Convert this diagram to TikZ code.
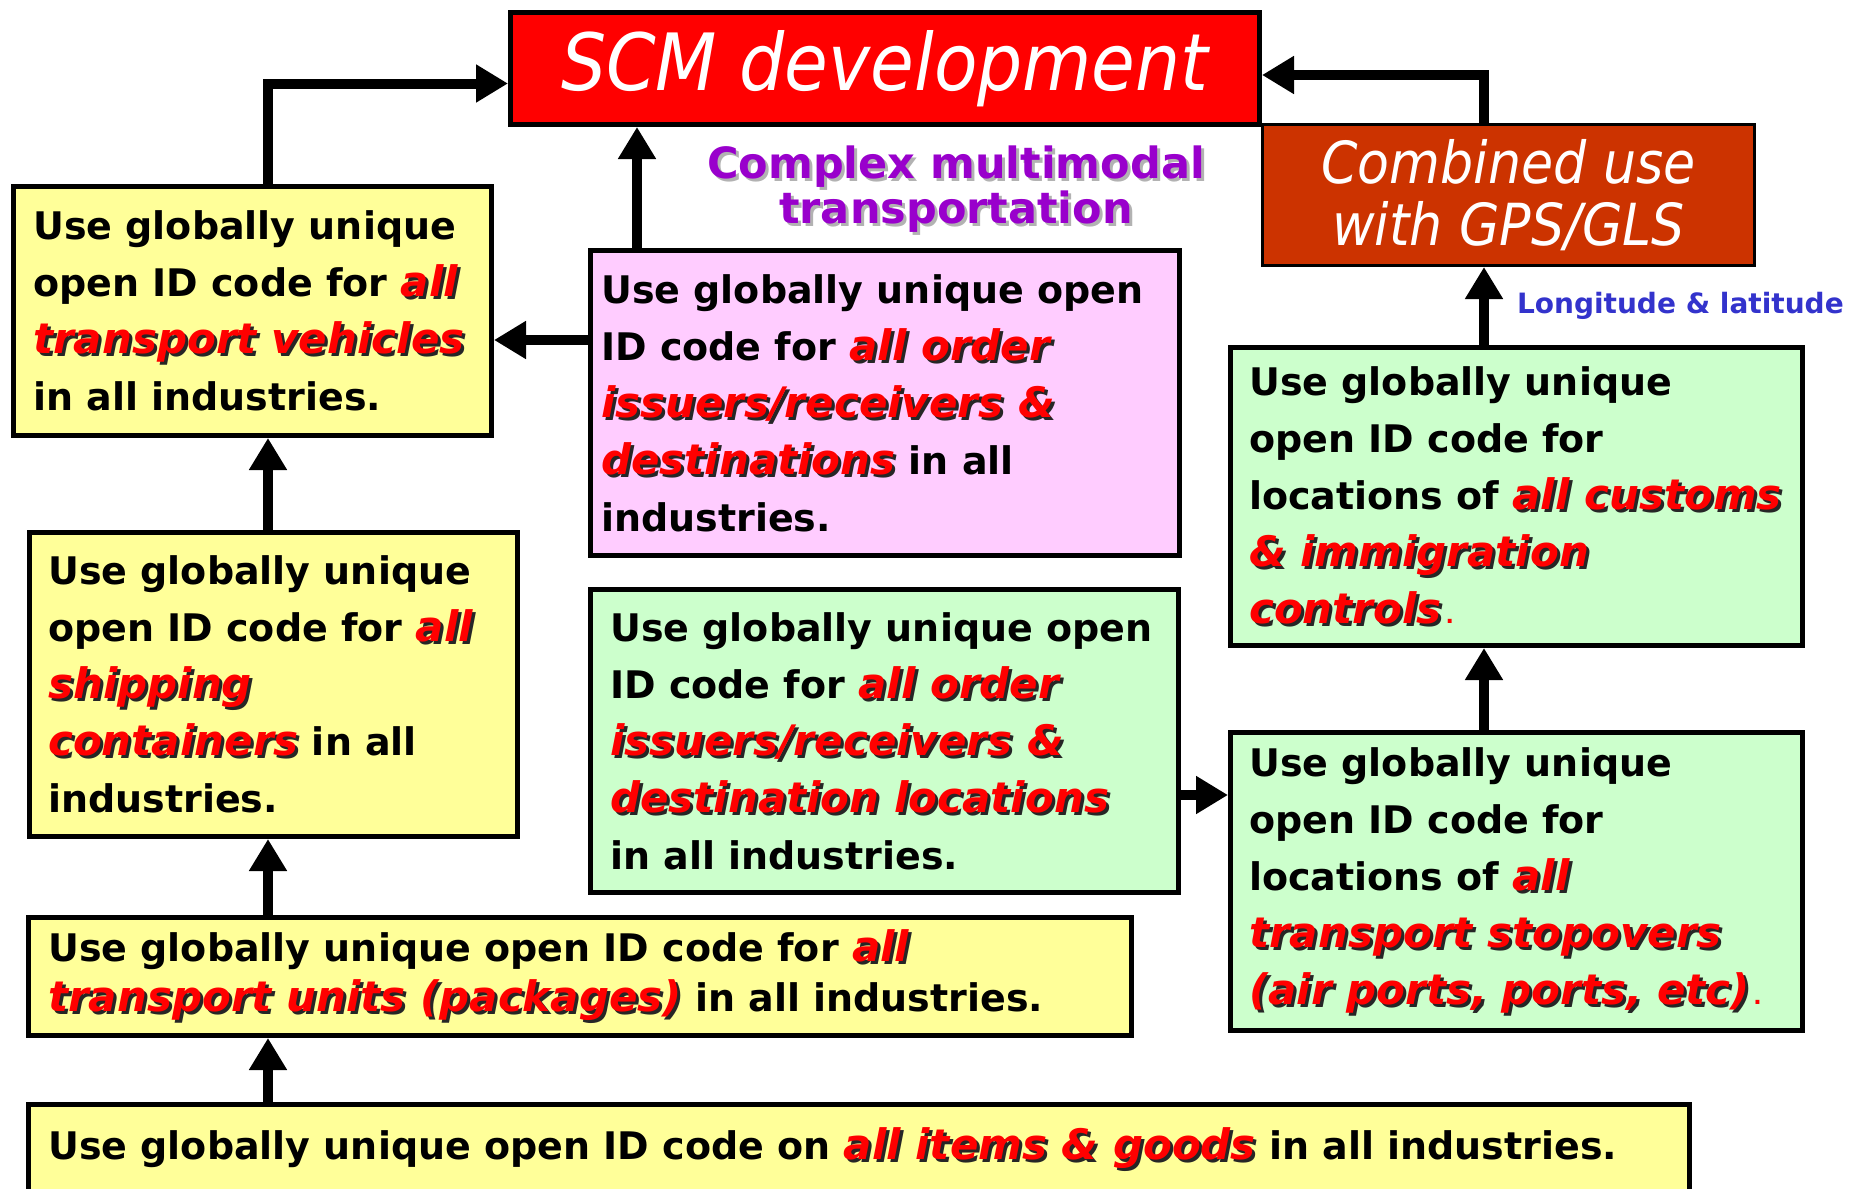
\documentclass[tikz,border=0pt]{standalone}
\usepackage{fontspec}
\setmainfont{DejaVu Sans}
\newfontfamily\condfont{DejaVu Sans Condensed}
\usetikzlibrary{arrows.meta}

\definecolor{boxyellow}{HTML}{FFFF99}
\definecolor{boxpink}{HTML}{FFCCFF}
\definecolor{boxgreen}{HTML}{CCFFCC}
\definecolor{scmred}{HTML}{FF0000}
\definecolor{gpsbrown}{HTML}{CC3300}
\definecolor{modalpurple}{HTML}{9900CC}
\definecolor{geoblue}{HTML}{3333CC}

% red bold italic words with a dark drop shadow
\newcommand{\hot}[1]{{\fontsize{42}{57}\selectfont\bfseries\itshape\makebox[0pt][l]{\kern3pt\raisebox{-3pt}{\color{black!85}#1}}\textcolor{red}{#1}}}
\newcommand{\hotdot}{{\color{red}\fontsize{22}{57}\selectfont\,.}}
% purple heading with grey shadow
\newcommand{\modal}[1]{\makebox[0pt][l]{\kern3pt\raisebox{-3pt}{\color{black!30}#1}}\textcolor{modalpurple}{#1}}

\tikzset{
  idbox/.style={draw, line width=5pt, inner sep=0pt},
  ybox/.style={idbox, fill=boxyellow},
  pbox/.style={idbox, fill=boxpink},
  gbox/.style={idbox, fill=boxgreen},
  txt/.style={inner sep=0pt, anchor=west, align=left, font=\fontsize{38}{57}\selectfont\bfseries},
  flow/.style={line width=10pt, -{Triangle[length=32pt,width=36pt]}},
}

\begin{document}
\begin{tikzpicture}[x=1pt, y=-1pt]
\clip (0,0) rectangle (1856,1189);
\coordinate (lspine) at (268,0);
\coordinate (mspine) at (637,0);
\coordinate (rspine) at (1484,0);

% top of the chain
\node[draw, line width=5pt, fill=scmred, minimum width=749pt, minimum height=112pt,
      text=white, font=\condfont\itshape\fontsize{79}{82}\selectfont] (scm) at (885,68.5) {SCM development};
\node[draw, line width=3pt, fill=gpsbrown, minimum width=492pt, minimum height=141pt, align=center,
      text=white, font=\condfont\itshape\fontsize{58}{62}\selectfont] (comb) at (1508.5,195) {Combined use\\with GPS/GLS};
\node[align=center, inner sep=0pt, font=\fontsize{43}{45}\selectfont\bfseries] (modal) at (956,191)
  {\modal{Complex multimodal}\\\modal{transportation}};

% boxes
\node[ybox, minimum width=478pt, minimum height=249pt] (tveh) at (252.5,311) {};
\node[pbox, minimum width=589pt, minimum height=305pt] (issu) at (885,403) {};
\node[gbox, minimum width=572pt, minimum height=298pt] (cust) at (1516.5,496.5) {};
\node[ybox, minimum width=488pt, minimum height=304pt] (ship) at (273.5,684.5) {};
\node[gbox, minimum width=588pt, minimum height=303pt] (dest) at (884.5,741) {};
\node[gbox, minimum width=572pt, minimum height=298pt] (stop) at (1516.5,881.5) {};
\node[ybox, minimum width=1103pt, minimum height=118pt] (pack) at (580,976.5) {};
\node[ybox, minimum width=1661pt, minimum height=90pt] (items) at (859,1149.5) {};

% box texts
\node[txt] (tveh-t) at ([xshift=22pt]tveh.west)
  {Use globally unique\\open ID code for \hot{all}\\\hot{transport vehicles}\\in all industries.};
\node[txt] (issu-t) at ([xshift=13pt]issu.west)
  {Use globally unique open\\ID code for \hot{all order}\\\hot{issuers/receivers \&}\\\hot{destinations} in all\\industries.};
\node[txt] (cust-t) at ([xshift=21pt]cust.west)
  {Use globally unique\\open ID code for\\locations of \hot{all customs}\\\hot{\& immigration}\\\hot{controls}\hotdot};
\node[txt] (ship-t) at ([xshift=21pt]ship.west)
  {Use globally unique\\open ID code for \hot{all}\\\hot{shipping}\\\hot{containers} in all\\industries.};
\node[txt] (dest-t) at ([xshift=22pt]dest.west)
  {Use globally unique open\\ID code for \hot{all order}\\\hot{issuers/receivers \&}\\\hot{destination locations}\\in all industries.};
\node[txt] (stop-t) at ([xshift=21pt]stop.west)
  {Use globally unique\\open ID code for\\locations of \hot{all}\\\hot{transport stopovers}\\\hot{(air ports, ports, etc)}\hotdot};
\node[txt, font=\fontsize{38}{50}\selectfont\bfseries] (pack-t) at ([xshift=22pt]pack.west)
  {Use globally unique open ID code for \hot{all}\\\hot{transport units (packages)} in all industries.};
\node[txt] (items-t) at ([xshift=22pt]items.west)
  {Use globally unique open ID code on \hot{all items \& goods} in all industries.};

% connectors
\draw[flow] (tveh.north -| lspine) |- ([yshift=-15pt]scm.west);
\draw[flow] (ship.north -| lspine) -- (tveh.south -| lspine);
\draw[flow] (pack.north -| lspine) -- (ship.south -| lspine);
\draw[flow] (items.north -| lspine) -- (pack.south -| lspine);
\draw[flow] (issu.north -| mspine) -- (scm.south -| mspine);
\draw[flow] ([yshift=63pt]issu.west) -- ([yshift=63pt]issu.west -| tveh.east);
\draw[flow] (comb.north -| rspine) |- ([yshift=-6.5pt]scm.east);
\draw[flow] (cust.north -| rspine) -- (comb.south -| rspine)
  node[pos=0.5, right=28pt, inner sep=0pt, text=geoblue, font=\fontsize{28}{30}\selectfont\bfseries] (geo) {Longitude \& latitude};
\draw[flow] (stop.north -| rspine) -- (cust.south -| rspine);
\draw[flow] ([yshift=-54pt]dest.east) -- ([yshift=-54pt]dest.east -| stop.west);
\end{tikzpicture}
\end{document}
